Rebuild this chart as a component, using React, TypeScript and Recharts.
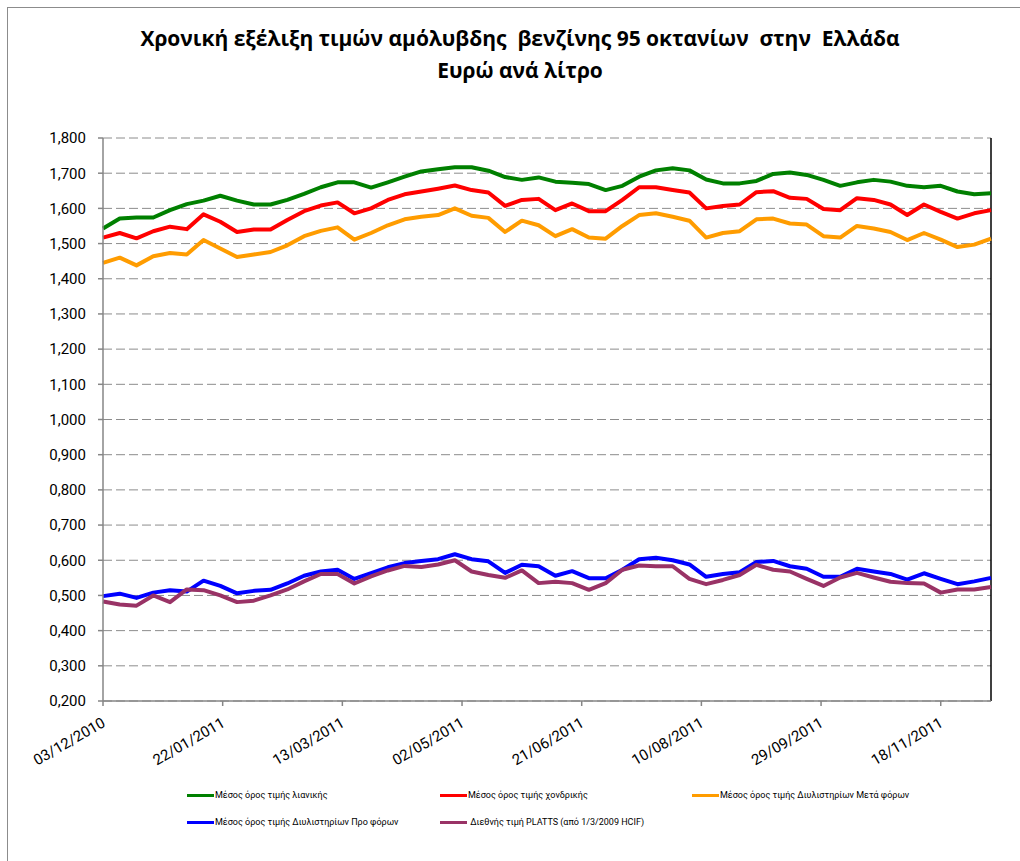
import React from 'react';
import { LineChart, Line, XAxis, YAxis, CartesianGrid, ReferenceLine } from 'recharts';

// weekly observations
const dates = [
  '03/12/2010', '10/12/2010', '17/12/2010', '24/12/2010', '31/12/2010',
  '07/01/2011', '14/01/2011', '21/01/2011', '28/01/2011',
  '04/02/2011', '11/02/2011', '18/02/2011', '25/02/2011',
  '04/03/2011', '11/03/2011', '18/03/2011', '25/03/2011',
  '01/04/2011', '08/04/2011', '15/04/2011', '22/04/2011', '29/04/2011',
  '06/05/2011', '13/05/2011', '20/05/2011', '27/05/2011',
  '03/06/2011', '10/06/2011', '17/06/2011', '24/06/2011',
  '01/07/2011', '08/07/2011', '15/07/2011', '22/07/2011', '29/07/2011',
  '05/08/2011', '12/08/2011', '19/08/2011', '26/08/2011',
  '02/09/2011', '09/09/2011', '16/09/2011', '23/09/2011', '30/09/2011',
  '07/10/2011', '14/10/2011', '21/10/2011', '28/10/2011',
  '04/11/2011', '11/11/2011', '18/11/2011', '25/11/2011',
  '02/12/2011', '09/12/2011',
];

const retail = [
  1.543, 1.571, 1.574, 1.574, 1.595, 1.612, 1.622, 1.636, 1.622, 1.611,
  1.611, 1.624, 1.641, 1.660, 1.674, 1.674, 1.659, 1.674, 1.690, 1.705,
  1.711, 1.717, 1.717, 1.707, 1.689, 1.681, 1.688, 1.676, 1.673, 1.669,
  1.652, 1.664, 1.690, 1.708, 1.714, 1.708, 1.682, 1.671, 1.671, 1.678,
  1.698, 1.702, 1.695, 1.681, 1.664, 1.674, 1.681, 1.676, 1.664, 1.660,
  1.664, 1.648, 1.640, 1.643,
];

const wholesale = [
  1.517, 1.530, 1.515, 1.535, 1.548, 1.541, 1.583, 1.562, 1.533, 1.540,
  1.540, 1.567, 1.592, 1.608, 1.617, 1.586, 1.600, 1.624, 1.640, 1.648,
  1.656, 1.665, 1.652, 1.645, 1.607, 1.624, 1.627, 1.595, 1.614, 1.592,
  1.592, 1.624, 1.660, 1.660, 1.652, 1.645, 1.600, 1.607, 1.611, 1.646,
  1.649, 1.630, 1.627, 1.598, 1.595, 1.629, 1.624, 1.611, 1.581, 1.611,
  1.590, 1.571, 1.586, 1.595,
];

const refineryAfterTax = [
  1.445, 1.460, 1.438, 1.464, 1.473, 1.469, 1.510, 1.486, 1.462, 1.469,
  1.476, 1.495, 1.521, 1.536, 1.546, 1.511, 1.530, 1.552, 1.569, 1.576,
  1.581, 1.600, 1.579, 1.573, 1.533, 1.565, 1.552, 1.521, 1.541, 1.517,
  1.514, 1.550, 1.581, 1.586, 1.576, 1.565, 1.517, 1.530, 1.535, 1.569,
  1.571, 1.557, 1.554, 1.521, 1.517, 1.550, 1.543, 1.533, 1.510, 1.530,
  1.511, 1.490, 1.497, 1.514,
];

const refineryBeforeTax = [
  0.498, 0.505, 0.493, 0.508, 0.515, 0.511, 0.542, 0.527, 0.506, 0.513,
  0.516, 0.534, 0.556, 0.568, 0.573, 0.547, 0.563, 0.580, 0.592, 0.598,
  0.603, 0.617, 0.603, 0.597, 0.564, 0.587, 0.583, 0.556, 0.569, 0.549,
  0.549, 0.573, 0.603, 0.607, 0.600, 0.588, 0.553, 0.561, 0.566, 0.595,
  0.598, 0.583, 0.576, 0.553, 0.553, 0.576, 0.568, 0.561, 0.545, 0.563,
  0.547, 0.532, 0.540, 0.550,
];

const platts = [
  0.483, 0.474, 0.471, 0.500, 0.481, 0.517, 0.515, 0.500, 0.481, 0.485,
  0.500, 0.517, 0.540, 0.561, 0.561, 0.534, 0.554, 0.571, 0.584, 0.581,
  0.588, 0.600, 0.568, 0.558, 0.550, 0.571, 0.535, 0.539, 0.535, 0.516,
  0.535, 0.573, 0.585, 0.583, 0.583, 0.547, 0.532, 0.544, 0.558, 0.587,
  0.573, 0.568, 0.547, 0.527, 0.551, 0.564, 0.551, 0.539, 0.535, 0.534,
  0.508, 0.517, 0.517, 0.524,
];

const xTickLabels = [
  '03/12/2010', '22/01/2011', '13/03/2011', '02/05/2011',
  '21/06/2011', '10/08/2011', '29/09/2011', '18/11/2011',
];

const yTicks = [0.2, 0.3, 0.4, 0.5, 0.6, 0.7, 0.8, 0.9, 1.0, 1.1, 1.2, 1.3, 1.4, 1.5, 1.6, 1.7, 1.8];

const series = [
  { key: 'retail', name: 'Μέσος όρος τιμής λιανικής', color: '#008000' },
  { key: 'wholesale', name: 'Μέσος όρος τιμής χονδρικής', color: '#FF0000' },
  { key: 'afterTax', name: 'Μέσος όρος τιμής Διυλιστηρίων Μετά φόρων', color: '#FF9C00' },
  { key: 'beforeTax', name: 'Μέσος όρος τιμής Διυλιστηρίων Προ φόρων', color: '#0000FF' },
  { key: 'platts', name: ' Διεθνής τιμή PLATTS (από 1/3/2009 HCIF)', color: '#993366' },
];

const parseDate = (s: string) => {
  const [d, m, y] = s.split('/').map(Number);
  return Date.UTC(y, m - 1, d);
};

const data = dates.map((d, i) => ({
  t: parseDate(d),
  retail: retail[i],
  wholesale: wholesale[i],
  afterTax: refineryAfterTax[i],
  beforeTax: refineryBeforeTax[i],
  platts: platts[i],
}));

const xTicks = xTickLabels.map(parseDate);
const FONT = 'Roboto, "Noto Sans", sans-serif';

const XTick = (props: any) => {
  const { x, y, payload } = props;
  const label = xTickLabels[xTicks.indexOf(payload.value)];
  return (
    <g transform={`translate(${x},${y}) rotate(-30)`}>
      <text x={-6} y={17} textAnchor="end" fontSize={15} fontFamily={FONT} fill="#000">
        {label}
      </text>
    </g>
  );
};

// legend rows as in the original sheet
const legendPos = [
  { left: 187, top: 795 },
  { left: 440, top: 795 },
  { left: 692, top: 795 },
  { left: 187, top: 822 },
  { left: 440, top: 822 },
];

export default function App() {
  return (
    <div style={{ position: 'absolute', left: 0, top: 0, width: 1020, height: 861, background: '#fff', overflow: 'hidden' }}>
      <div style={{ position: 'absolute', left: 7, top: 7, width: 1100, height: 900, borderLeft: '1px solid #8c8c8c', borderTop: '1px solid #8c8c8c' }} />
      <div
        style={{
          position: 'absolute', left: 0, top: 22, width: 1040, textAlign: 'center',
          fontFamily: '"Open Sans", "Noto Sans", sans-serif', fontWeight: 'bold', fontSize: 21, lineHeight: '32px', color: '#000',
        }}
      >
        <div>Χρονική εξέλιξη τιμών αμόλυβδης&nbsp; βενζίνης 95 οκτανίων&nbsp; στην&nbsp; Ελλάδα</div>
        <div>Ευρώ ανά λίτρο</div>
      </div>
      <div style={{ position: 'absolute', left: 0, top: 0 }}>
        <LineChart width={1020} height={861} data={data} margin={{ top: 138, right: 29, left: 43, bottom: 100 }}>
          <CartesianGrid vertical={false} stroke="#8c8c8c" strokeDasharray="9 4" />
          <XAxis
            dataKey="t"
            type="number"
            domain={['dataMin', 'dataMax']}
            ticks={xTicks}
            tick={<XTick />}
            tickSize={5}
            height={60}
            interval={0}
            stroke="#868686"
            strokeWidth={1.5}
          />
          <YAxis
            type="number"
            domain={[0.2, 1.8]}
            ticks={yTicks}
            interval={0}
            width={60}
            tickSize={5}
            tickMargin={12}
            stroke="#868686"
            strokeWidth={1.5}
            tick={{ fill: '#000', fontSize: 15, fontFamily: FONT }}
            tickFormatter={(v: number) => v.toFixed(3).replace('.', ',')}
          />
          <ReferenceLine x={data[data.length - 1].t} stroke="#000" strokeWidth={1.5} />
          {series.map((s) => (
            <Line
              key={s.key}
              type="linear"
              dataKey={s.key}
              name={s.name}
              stroke={s.color}
              strokeWidth={4}
              strokeLinejoin="round"
              dot={false}
              isAnimationActive={false}
            />
          ))}
        </LineChart>
      </div>
      {series.map((s, i) => (
        <div
          key={s.key}
          style={{
            position: 'absolute', left: legendPos[i].left, top: legendPos[i].top - 7,
            display: 'flex', alignItems: 'center', height: 14,
            fontFamily: FONT, fontSize: 9, color: '#000', whiteSpace: 'pre',
          }}
        >
          <span style={{ display: 'inline-block', width: 27, height: 3, background: s.color, marginRight: 1 }} />
          <span>{s.name}</span>
        </div>
      ))}
    </div>
  );
}
